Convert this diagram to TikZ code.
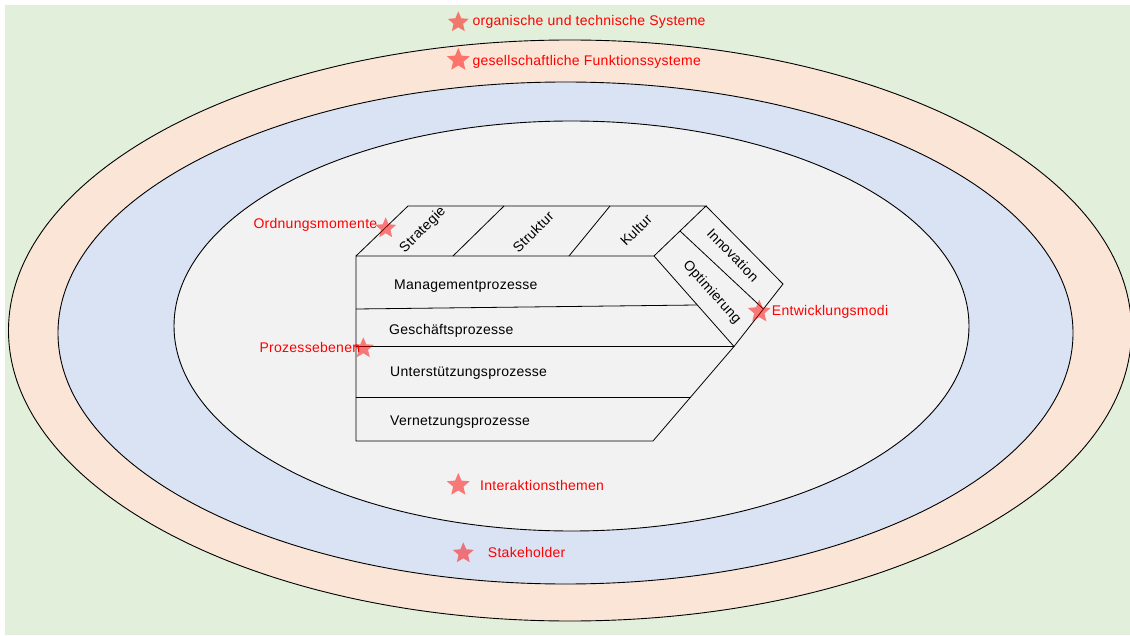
\documentclass[tikz,border=0pt]{standalone}
\usepackage{fontspec}
\setmainfont{Liberation Sans}[LetterSpace=2]
\usetikzlibrary{shapes.geometric,calc}

\definecolor{bggreen}{HTML}{E2EFDA}
\definecolor{ringorange}{HTML}{FBE5D6}
\definecolor{ringblue}{HTML}{DAE3F3}
\definecolor{coregrey}{HTML}{F2F2F2}

\begin{document}
\begin{tikzpicture}[x=1pt, y=-1pt,
  ring/.style={draw=black, line width=0.9pt},
  edge/.style={draw=black, line width=0.8pt},
  starmark/.style={star, star points=5, star point ratio=2.2, minimum size=22pt,
    inner sep=0pt, fill=red, fill opacity=0.5, draw=none},
  lbl/.style={text=red, font=\fontsize{14}{16}\selectfont, anchor=base west, inner sep=0pt},
  proc/.style={font=\fontsize{14}{16}\selectfont, anchor=base west, inner sep=0pt},
  dim/.style={font=\fontsize{14}{16}\selectfont, inner sep=0pt}
]
\useasboundingbox (0,0) rectangle (1130,636);

% backdrop and nested rings
\fill[bggreen] (5,5) rectangle (1130,635);
\draw[ring, fill=ringorange] (570,330.5) ellipse [x radius=561.5, y radius=290.5];
\draw[ring, fill=ringblue] (565.5,333) ellipse [x radius=507.5, y radius=251];
\draw[ring, fill=coregrey] (571.5,326) ellipse [x radius=397.5, y radius=205];

% corner points of the process block
\coordinate (ftl) at (356,256);
\coordinate (ftr) at (654,256);
\coordinate (bkl) at (408,206);
\coordinate (bkr) at (706,206);
\coordinate (tip) at (783,284);
\coordinate (mid) at (734,346.5);
\coordinate (fbr) at (653,441);
\coordinate (fbl) at (356,441);

% outline
\draw[edge] (ftl) -- (ftr) -- (mid) -- (fbr) -- (fbl) -- cycle;
\draw[edge] (ftl) -- (bkl) -- (bkr) -- (ftr);
\draw[edge] (bkr) -- (tip) -- (mid);

% top face dividers
\coordinate (t1a) at (453,256);
\coordinate (t1b) at (504,206);
\coordinate (t2a) at (569,256);
\coordinate (t2b) at (610,206);
\draw[edge] (t1a) -- (t1b);
\draw[edge] (t2a) -- (t2b);

% side face divider
\coordinate (s1) at ($(ftr)!0.5!(bkr)$);
\coordinate (s2) at ($(tip)!0.4!(mid)$);
\draw[edge] (s1) -- (s2);

% process layers
\coordinate (l1a) at (356,309);
\coordinate (l1b) at (697,305);
\coordinate (l2a) at (356,346.5);
\coordinate (l3a) at (356,397);
\coordinate (l3b) at (691,397);
\draw[edge] (l1a) -- (l1b);
\draw[edge] (l2a) -- (mid);
\draw[edge] (l3a) -- (l3b);

\node[proc] (pm) at (394,289.3) {Managementprozesse};
\node[proc] (pg) at (389,334.3) {Geschäftsprozesse};
\node[proc] (pu) at (390,376.7) {Unterstützungsprozesse};
\node[proc] (pv) at (390,425) {Vernetzungsprozesse};

% dimension labels on the top and side faces
\node[dim, rotate=45] (ds) at (423,230) {Strategie};
\node[dim, rotate=45] (dst) at (533,232) {Struktur};
\node[dim, rotate=45] (dk) at (636,230) {Kultur};
\node[dim, rotate=-46] (di) at (733,255) {Innovation};
\node[dim, rotate=-48] (dop) at (711.7,292.5) {Optimierung};

% markers with captions
\node[starmark] (m1) at (458.3,22.3) {};
\node[lbl] (c1) at (472.3,25.7) {organische und technische Systeme};
\node[starmark, minimum size=24pt] (m2) at (458.3,60) {};
\node[lbl] (c2) at (472.3,66) {gesellschaftliche Funktionssysteme};
\node[lbl] (c3) at (253.3,229) {Ordnungsmomente};
\node[starmark] (m3) at (385.7,228.3) {};
\node[lbl] (c4) at (259.3,352.7) {Prozessebenen};
\node[starmark] (m4) at (363.3,348.3) {};
\node[starmark, minimum size=24pt] (m5) at (759.3,311.7) {};
\node[lbl] (c5) at (771.7,316) {Entwicklungsmodi};
\node[starmark, minimum size=24pt] (m6) at (458.3,485) {};
\node[lbl] (c6) at (480,490.7) {Interaktionsthemen};
\node[starmark] (m7) at (463.3,553.3) {};
\node[lbl] (c7) at (487.7,557.3) {Stakeholder};
\end{tikzpicture}
\end{document}
